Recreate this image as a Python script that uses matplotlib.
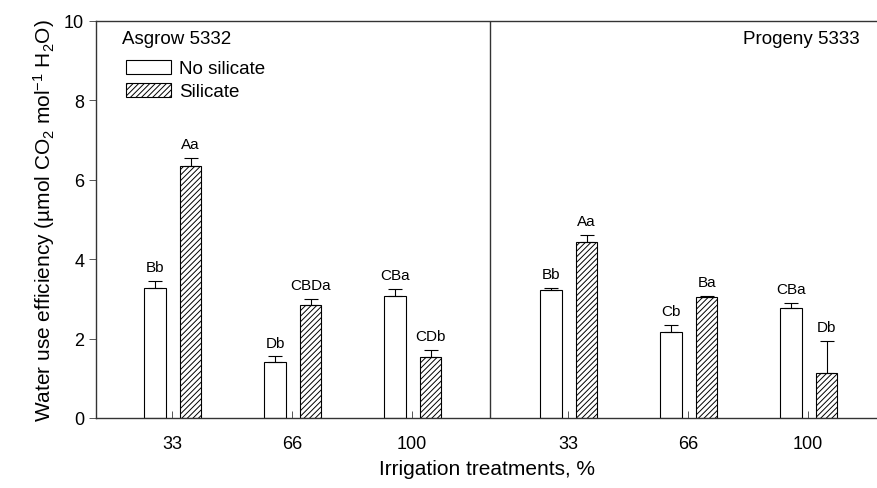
import numpy as np
import matplotlib
matplotlib.use("Agg")
import matplotlib.pyplot as plt
from matplotlib.patches import Patch

plt.rcParams['font.family'] = ['Liberation Sans', 'DejaVu Sans']
plt.rcParams['mathtext.fontset'] = 'custom'
plt.rcParams['mathtext.rm'] = 'Liberation Sans'
plt.rcParams['mathtext.it'] = 'Liberation Sans'
plt.rcParams['hatch.linewidth'] = 0.7

# datos
irrigacion = ['33', '66', '100', '33', '66', '100']
no_silicato = [3.27, 1.42, 3.07, 3.22, 2.17, 2.77]
no_silicato_err = [0.17, 0.13, 0.18, 0.05, 0.17, 0.13]
silicato = [6.36, 2.85, 1.54, 4.44, 3.05, 1.13]
silicato_err = [0.18, 0.15, 0.17, 0.17, 0.03, 0.80]
letras_no = ['Bb', 'Db', 'CBa', 'Bb', 'Cb', 'CBa']
letras_si = ['Aa', 'CBDa', 'CDb', 'Aa', 'Ba', 'Db']

pos = np.array([1, 2, 3, 4.3, 5.3, 6.3])  # posicion de cada grupo
ancho = 0.18

fig = plt.figure(figsize=(8.78, 4.89), dpi=100)
ax = fig.add_axes([96/878, 1 - 419/489, 782/878, 397/489])

ax.bar(pos - 0.14, no_silicato, ancho, color='white', edgecolor='black', linewidth=0.8)
ax.bar(pos + 0.155, silicato, ancho, color='white', edgecolor='black', linewidth=0.8,
       hatch='//////')
ax.errorbar(pos - 0.14, no_silicato, yerr=[np.zeros(6), no_silicato_err], fmt='none',
            ecolor='black', elinewidth=0.8, capsize=5, capthick=0.8)
ax.errorbar(pos + 0.155, silicato, yerr=[np.zeros(6), silicato_err], fmt='none',
            ecolor='black', elinewidth=0.8, capsize=5, capthick=0.8)

# letras de significancia
for k in range(6):
    ax.annotate(letras_no[k], (pos[k] - 0.14, no_silicato[k] + no_silicato_err[k]),
                xytext=(0, 5), textcoords='offset points', ha='center', va='bottom', fontsize=11)
    ax.annotate(letras_si[k], (pos[k] + 0.155, silicato[k] + silicato_err[k]),
                xytext=(0, 5), textcoords='offset points', ha='center', va='bottom', fontsize=11)

ax.axvline(3.65, color='#333333', linewidth=1.0)

ax.set_xlim(0.367, 6.883)
ax.set_ylim(0, 10)
ax.set_yticks(range(0, 11, 2))
ax.set_xticks(pos)
ax.set_xticklabels(irrigacion)
ax.tick_params(axis='x', direction='in', length=5, width=0.7, color='#555555',
               labelsize=13, pad=12)
ax.tick_params(axis='y', direction='out', length=5, width=0.7, color='#555555',
               labelsize=13)
ax.spines['right'].set_visible(False)
for s in ['left', 'bottom', 'top']:
    ax.spines[s].set_color('#333333')
    ax.spines[s].set_linewidth(1.0)

ax.set_xlabel('Irrigation treatments, %', fontsize=15, labelpad=5)
ax.set_ylabel('Water use efficiency (µmol CO$_2$ mol$^{-1}$ H$_2$O)', fontsize=15, labelpad=5)

fig.text(122/878, 1 - 39/489, 'Asgrow 5332', fontsize=13.5, va='center', ha='left')
fig.text(860/878, 1 - 39/489, 'Progeny 5333', fontsize=13.5, va='center', ha='right')

# leyenda
h1 = Patch(facecolor='white', edgecolor='black', linewidth=0.8, label='No silicate')
h2 = Patch(facecolor='white', edgecolor='black', linewidth=0.8, hatch='//////', label='Silicate')
ax.legend(handles=[h1, h2], loc='upper left', bbox_to_anchor=(30/782, 1 - 39/397), frameon=False,
          fontsize=13.5, handlelength=2.4, handleheight=0.75, handletextpad=0.45,
          labelspacing=0.3, borderaxespad=0, borderpad=0)

fig.savefig('out.png', dpi=100)
